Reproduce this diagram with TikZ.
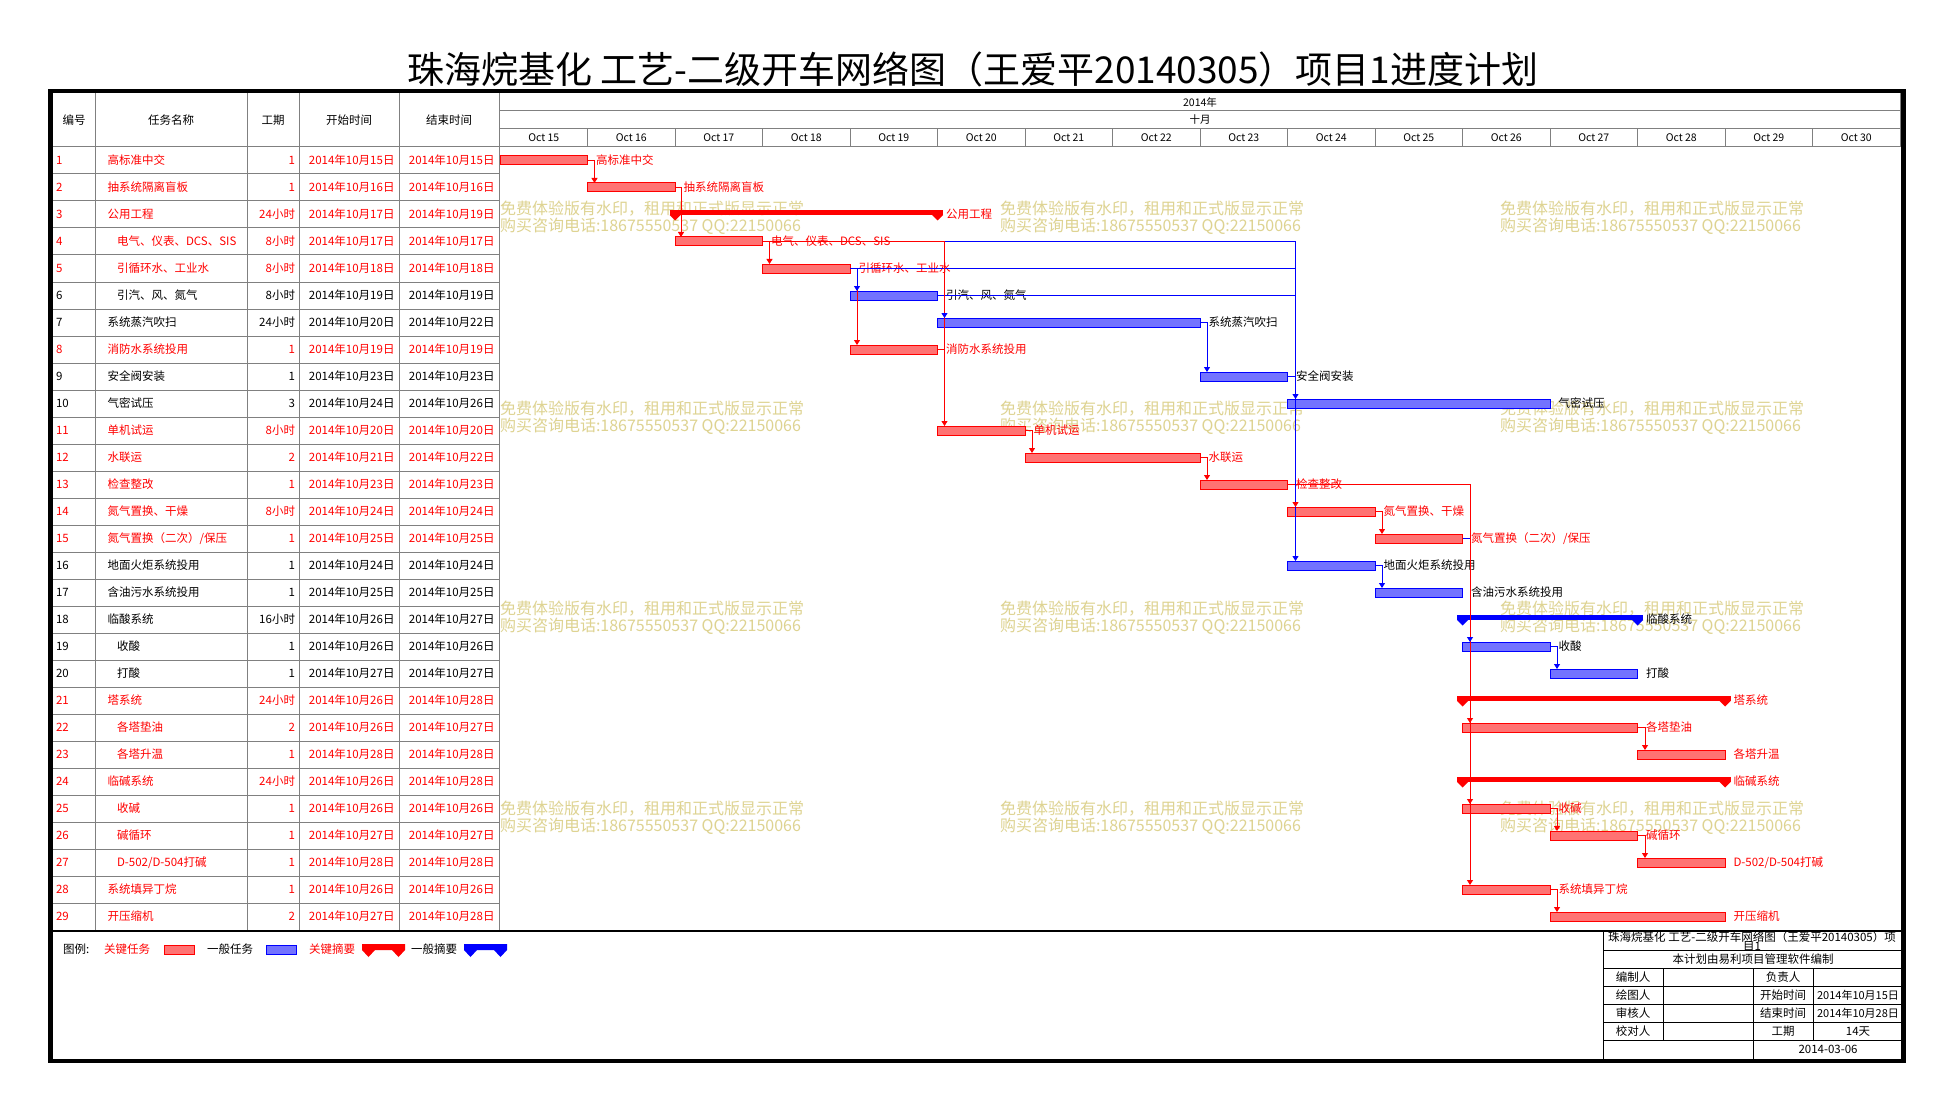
\documentclass[tikz,border=0pt]{standalone}
\usepackage{fontspec}
\setmainfont{Noto Sans CJK SC}
\usetikzlibrary{arrows.meta}
\definecolor{gridg}{RGB}{128,128,128}
\definecolor{wmc}{RGB}{222,211,145}
\definecolor{pr}{RGB}{255,0,0}
\definecolor{pb}{RGB}{0,0,255}

\newcommand\gtask[7]{%
  \pgfmathsetmacro\gxs{500+87.5*(#3-15)}%
  \pgfmathsetmacro\gxm{\gxs+43.75*#4}%
  \pgfmathsetmacro\gcy{133.5+27*#2}%
  \node[#5, minimum width={87.5*#4}] (#1) at (\gxm,\gcy) {};%
  \node[lab, text=#6, anchor=west] (#1l) at ([xshift=8.5pt]#1.east) {#7};%
}
\newcommand\gsum[7]{%
  \pgfmathsetmacro\gxs{500+87.5*(#3-15)}%
  \pgfmathsetmacro\gxe{\gxs+87.5*#4}%
  \pgfmathsetmacro\gcy{133.5+27*#2}%
  \fill[#5] ({\gxs-5.5},{\gcy-4.5}) rectangle ({\gxe+5.5},{\gcy+0.5});%
  \fill[#5] ({\gxs-5.5},{\gcy+0.5}) -- ({\gxs+5.5},{\gcy+0.5}) -- (\gxs,{\gcy+6}) -- cycle;%
  \fill[#5] ({\gxe-5.5},{\gcy+0.5}) -- ({\gxe+5.5},{\gcy+0.5}) -- (\gxe,{\gcy+6}) -- cycle;%
  \coordinate (#1) at (\gxs,\gcy);%
  \node[lab, text=#6, anchor=west] (#1l) at ({\gxe+8.5},\gcy) {#7};%
}
\newcommand\trow[7]{%
  \pgfmathsetmacro\gcy{133.5+27*#1}%
  \node[tt, text=#2, anchor=west] (no#1) at (56,\gcy) {#1};%
  \node[tt, text=#2, anchor=west] (na#1) at ({107.5+#3},\gcy) {#4};%
  \node[tt, text=#2, anchor=east] (du#1) at (295,\gcy) {#5};%
  \node[tt, text=#2, anchor=east] (sd#1) at (394.5,\gcy) {2014年10月#6日};%
  \node[tt, text=#2, anchor=east] (ed#1) at (494.5,\gcy) {2014年10月#7日};%
}

\begin{document}
\begin{tikzpicture}[x=1pt,y=-1pt,
  every node/.style={inner sep=0pt, outer sep=0pt},
  tt/.style={font=\fontsize{11.5}{12}\selectfont},
  lab/.style={font=\fontsize{11.5}{12}\selectfont},
  dl/.style={font=\fontsize{10.5}{11}\selectfont},
  wm/.style={font=\fontsize{16}{16}\selectfont, text=wmc, anchor=west},
  gridl/.style={draw=gridg, line width=1pt},
  barR/.style={draw=pr, fill=pr!55!white, line width=1pt, minimum height=9pt},
  barB/.style={draw=pb, fill=pb!55!white, line width=1pt, minimum height=9pt},
  cr/.style={color=pr, line width=1pt},
  cb/.style={color=pb, line width=1pt},
  arr/.style={-{Triangle[width=6pt,length=5pt]}},
  boxl/.style={draw=black, line width=1pt}]
\useasboundingbox (0,0) rectangle (1952,1110);
\fill[white] (0,0) rectangle (1952,1110);

% watermarks
\foreach \r in {0,1,2,3}{
  \foreach \c in {500,1000,1500}{
    \node[wm] (wma-\r-\c) at (\c,{209+200*\r}) {免费体验版有水印，租用和正式版显示正常};
    \node[wm] (wmb-\r-\c) at (\c,{226+200*\r}) {购买咨询电话:18675550537 QQ:22150066};
  }
}

% title
\node[font=\fontsize{37}{40}\selectfont] (title) at (973,69) {珠海烷基化 工艺-二级开车网络图（王爱平20140305）项目1进度计划};

% table grid
\foreach \x in {95,247,299,399,499}{ \draw[gridl] (\x,93) -- (\x,931); }
\foreach \k in {0,...,29}{ \draw[gridl] (50,{147+27*\k}) -- (499,{147+27*\k}); }
% gantt header grid
\draw[gridl] (499,111) -- (1900,111);
\draw[gridl] (499,129) -- (1900,129);
\draw[gridl] (499,147) -- (1900,147);
\draw[gridl] (1900,93) -- (1900,147);
\foreach \d in {16,...,30}{ \draw[gridl] ({500+87.5*(\d-15)},129) -- ({500+87.5*(\d-15)},147); }
\node[dl] (yr) at (1200,102) {2014年};
\node[dl] (mo) at (1200,120) {十月};
\foreach \d in {15,...,30}{ \node[dl] (day\d) at ({543.75+87.5*(\d-15)},138) {Oct \d}; }

% table header
\node[tt] (h1) at (74,120) {编号};
\node[tt] (h2) at (171,120) {任务名称};
\node[tt] (h3) at (273,120) {工期};
\node[tt] (h4) at (349,120) {开始时间};
\node[tt] (h5) at (449,120) {结束时间};

% table rows
\trow{1}{pr}{0}{高标准中交}{1}{15}{15}
\trow{2}{pr}{0}{抽系统隔离盲板}{1}{16}{16}
\trow{3}{pr}{0}{公用工程}{24小时}{17}{19}
\trow{4}{pr}{9.5}{电气、仪表、DCS、SIS}{8小时}{17}{17}
\trow{5}{pr}{9.5}{引循环水、工业水}{8小时}{18}{18}
\trow{6}{black}{9.5}{引汽、风、氮气}{8小时}{19}{19}
\trow{7}{black}{0}{系统蒸汽吹扫}{24小时}{20}{22}
\trow{8}{pr}{0}{消防水系统投用}{1}{19}{19}
\trow{9}{black}{0}{安全阀安装}{1}{23}{23}
\trow{10}{black}{0}{气密试压}{3}{24}{26}
\trow{11}{pr}{0}{单机试运}{8小时}{20}{20}
\trow{12}{pr}{0}{水联运}{2}{21}{22}
\trow{13}{pr}{0}{检查整改}{1}{23}{23}
\trow{14}{pr}{0}{氮气置换、干燥}{8小时}{24}{24}
\trow{15}{pr}{0}{氮气置换（二次）/保压}{1}{25}{25}
\trow{16}{black}{0}{地面火炬系统投用}{1}{24}{24}
\trow{17}{black}{0}{含油污水系统投用}{1}{25}{25}
\trow{18}{black}{0}{临酸系统}{16小时}{26}{27}
\trow{19}{black}{9.5}{收酸}{1}{26}{26}
\trow{20}{black}{9.5}{打酸}{1}{27}{27}
\trow{21}{pr}{0}{塔系统}{24小时}{26}{28}
\trow{22}{pr}{9.5}{各塔垫油}{2}{26}{27}
\trow{23}{pr}{9.5}{各塔升温}{1}{28}{28}
\trow{24}{pr}{0}{临碱系统}{24小时}{26}{28}
\trow{25}{pr}{9.5}{收碱}{1}{26}{26}
\trow{26}{pr}{9.5}{碱循环}{1}{27}{27}
\trow{27}{pr}{9.5}{D-502/D-504打碱}{1}{28}{28}
\trow{28}{pr}{0}{系统填异丁烷}{1}{26}{26}
\trow{29}{pr}{0}{开压缩机}{2}{27}{28}

% gantt bars
\gtask{b1}{1}{15}{1}{barR}{pr}{高标准中交}
\gtask{b2}{2}{16}{1}{barR}{pr}{抽系统隔离盲板}
\gsum{s3}{3}{17}{3}{pr}{pr}{公用工程}
\gtask{b4}{4}{17}{1}{barR}{pr}{电气、仪表、DCS、SIS}
\gtask{b5}{5}{18}{1}{barR}{pr}{引循环水、工业水}
\gtask{b6}{6}{19}{1}{barB}{black}{引汽、风、氮气}
\gtask{b7}{7}{20}{3}{barB}{black}{系统蒸汽吹扫}
\gtask{b8}{8}{19}{1}{barR}{pr}{消防水系统投用}
\gtask{b9}{9}{23}{1}{barB}{black}{安全阀安装}
\gtask{b10}{10}{24}{3}{barB}{black}{气密试压}
\gtask{b11}{11}{20}{1}{barR}{pr}{单机试运}
\gtask{b12}{12}{21}{2}{barR}{pr}{水联运}
\gtask{b13}{13}{23}{1}{barR}{pr}{检查整改}
\gtask{b14}{14}{24}{1}{barR}{pr}{氮气置换、干燥}
\gtask{b15}{15}{25}{1}{barR}{pr}{氮气置换（二次）/保压}
\gtask{b16}{16}{24}{1}{barB}{black}{地面火炬系统投用}
\gtask{b17}{17}{25}{1}{barB}{black}{含油污水系统投用}
\gsum{s18}{18}{26}{2}{pb}{black}{临酸系统}
\gtask{b19}{19}{26}{1}{barB}{black}{收酸}
\gtask{b20}{20}{27}{1}{barB}{black}{打酸}
\gsum{s21}{21}{26}{3}{pr}{pr}{塔系统}
\gtask{b22}{22}{26}{2}{barR}{pr}{各塔垫油}
\gtask{b23}{23}{28}{1}{barR}{pr}{各塔升温}
\gsum{s24}{24}{26}{3}{pr}{pr}{临碱系统}
\gtask{b25}{25}{26}{1}{barR}{pr}{收碱}
\gtask{b26}{26}{27}{1}{barR}{pr}{碱循环}
\gtask{b27}{27}{28}{1}{barR}{pr}{D-502/D-504打碱}
\gtask{b28}{28}{26}{1}{barR}{pr}{系统填异丁烷}
\gtask{b29}{29}{27}{2}{barR}{pr}{开压缩机}

% connectors
\coordinate (vx) at ([xshift=8pt]b10.north west);
\coordinate (ux) at ([xshift=7pt]b11.north west);
\coordinate (wx) at ([xshift=7pt]b6.north west);
\coordinate (tx) at ([xshift=7.5pt]b28.north west);

\draw[cr,arr] (b1.east) -| ([xshift=7pt]b2.north west);
\draw[cr,arr] (b2.east) -| ([xshift=6pt]b4.north west);
\draw[cr,arr] (b4.east) -| ([xshift=7pt]b5.north west);
\draw[cb] (b4.east) -- (b4.east -| vx);
\draw[cb] (b5.east) -- (b5.east -| vx);
\draw[cb] (b6.east) -- (b6.east -| vx);
\draw[cr,arr] (b5.east) -| (b8.north west -| wx);
\draw[cb,arr] (b5.east) -| (b6.north west -| wx);
\draw[cr] (b4.east) -- (b4.east -| ux);
\draw[cr,arr] (b4.east -| ux) -- (b11.north west -| ux);
\coordinate (a7) at (b7.north west -| ux);
\draw[cb,arr] ([yshift=5.5pt]a7) -- (a7);
\draw[cb,arr] (b7.east) -| ([xshift=7pt]b9.north west);
\draw[cr] (b8.east) -- ++(7,0);
\draw[cb] (b9.east) -- ++(8,0);
\draw[cr,arr] (b11.east) -| ([xshift=7pt]b12.north west);
\draw[cr,arr] (b12.east) -| ([xshift=7pt]b13.north west);
\draw[cr,arr] (b13.east) -| (b28.north west -| tx);
\coordinate (a14) at (b14.north west -| vx);
\draw[cr] (b13.east -| vx) -- (a14);
\draw[cb,arr] (b4.east -| vx) -- (b16.north west -| vx);
\coordinate (a10) at (b10.north west -| vx);
\draw[cb,arr] ([yshift=5.5pt]a10) -- (a10);
\draw[cr,arr] ([yshift=5.5pt]a14) -- (a14);
\draw[cr,arr] (b14.east) -| ([xshift=7pt]b15.north west);
\draw[cb] (b15.east) -- ++(7.5,0);
\draw[cb,arr] (b16.east) -| ([xshift=7pt]b17.north west);
\coordinate (a19) at (b19.north west -| tx);
\coordinate (a22) at (b22.north west -| tx);
\coordinate (a25) at (b25.north west -| tx);
\draw[cb,arr] ([yshift=5.5pt]a19) -- (a19);
\draw[cr,arr] ([yshift=5.5pt]a22) -- (a22);
\draw[cr,arr] ([yshift=5.5pt]a25) -- (a25);
\draw[cb,arr] (b19.east) -| ([xshift=7pt]b20.north west);
\draw[cr,arr] (b22.east) -| ([xshift=7.5pt]b23.north west);
\draw[cr,arr] (b25.east) -| ([xshift=7pt]b26.north west);
\draw[cr,arr] (b26.east) -| ([xshift=7.5pt]b27.north west);
\draw[cr,arr] (b28.east) -| ([xshift=7pt]b29.north west);

% legend
\draw[draw=black, line width=1.2pt] (50,931) -- (1903,931);
\node[tt, anchor=west] (lg0) at (63,949.5) {图例:};
\node[tt, text=pr, anchor=west] (lg1) at (104,949.5) {关键任务};
\node[barR, minimum width=30pt] (lg2) at (179,949.5) {};
\node[tt, anchor=west] (lg3) at (207,949.5) {一般任务};
\node[barB, minimum width=30pt] (lg4) at (281,949.5) {};
\node[tt, text=pr, anchor=west] (lg5) at (309,949.5) {关键摘要};
\fill[pr] (362,944) -- (405,944) -- (405,950) -- (398.5,957) -- (392,950) -- (375,950) -- (368.5,957) -- (362,950) -- cycle;
\node[tt, anchor=west] (lg7) at (411,949.5) {一般摘要};
\fill[pb] (464,944) -- (507,944) -- (507,950) -- (500.5,957) -- (494,950) -- (477,950) -- (470.5,957) -- (464,950) -- cycle;

% info box
\draw[boxl] (1603,931) -- (1603,1061);
\foreach \yy in {950.7,968.3,986.3,1004.3,1022.3,1040.3}{ \draw[boxl] (1603,\yy) -- (1903,\yy); }
\foreach \xx in {1663,1813}{ \draw[boxl] (\xx,968.3) -- (\xx,1040.3); }
\draw[boxl] (1753,968.3) -- (1753,1061);
\node[tt] (bt1) at (1752,937) {珠海烷基化 工艺-二级开车网络图（王爱平20140305）项};
\node[tt] (bt2) at (1752,946.5) {目1};
\node[tt] (bt3) at (1753,959.5) {本计划由易利项目管理软件编制};
\node[tt] (bc1) at (1633,977.3) {编制人};
\node[tt] (bc2) at (1783,977.3) {负责人};
\node[tt] (bc3) at (1633,995.3) {绘图人};
\node[tt] (bc4) at (1783,995.3) {开始时间};
\node[tt, font=\fontsize{11}{12}\selectfont] (bc5) at (1858,995.3) {2014年10月15日};
\node[tt] (bc6) at (1633,1013.3) {审核人};
\node[tt] (bc7) at (1783,1013.3) {结束时间};
\node[tt, font=\fontsize{11}{12}\selectfont] (bc8) at (1858,1013.3) {2014年10月28日};
\node[tt] (bc9) at (1633,1031.3) {校对人};
\node[tt] (bc10) at (1783,1031.3) {工期};
\node[tt] (bc11) at (1858,1031.3) {14天};
\node[tt] (bc12) at (1828,1049.5) {2014-03-06};

% frame
\draw[line width=4.5pt] (50.5,91) rectangle (1903.5,1061);
\end{tikzpicture}
\end{document}
